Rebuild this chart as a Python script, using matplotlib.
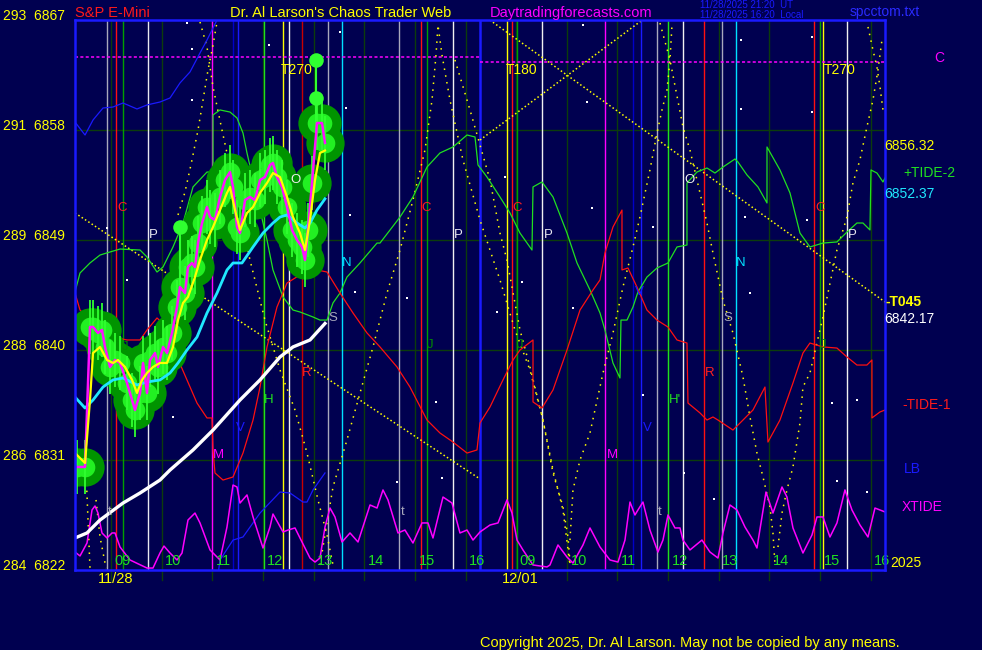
import matplotlib
matplotlib.use('Agg')
import matplotlib.pyplot as plt
import matplotlib.transforms as mtransforms

plt.rcParams['font.family'] = ['Liberation Sans', 'DejaVu Sans']

BG = '#000050'

# x axis is session hours: 11/28 09:00 -> 9, 12/01 09:00 -> 17
X0, X1 = 8.289, 24.282
Y0, Y1 = 6822.0, 6867.0

price_levels = [6867, 6858, 6849, 6840, 6831, 6822]
alt_levels = [293, 291, 289, 288, 286, 284]
hour_lines = list(range(9, 25))
hour_labels = ['09', '10', '11', '12', '13', '14', '15', '16'] * 2

# price (magenta) and its smoothings
px_t = [8.329, 8.487, 8.585, 8.645, 8.743, 8.822, 8.882, 8.980, 9.079, 9.178, 9.316, 9.415,
        9.474, 9.573, 9.632, 9.711, 9.770, 9.869, 9.928, 10.027, 10.106, 10.204, 10.303,
        10.362, 10.461, 10.520, 10.599, 10.658, 10.718, 10.797, 10.895, 10.955, 11.053,
        11.152, 11.251, 11.349, 11.409, 11.488, 11.547, 11.646, 11.744, 11.843, 11.942,
        12.040, 12.139, 12.198, 12.277, 12.376, 12.475, 12.574, 12.672, 12.771, 12.830,
        12.889, 12.968, 13.067, 13.166, 13.225]
px_p = [6830.43, 6830.43, 6841.88, 6841.88, 6841.39, 6841.64, 6840.25, 6838.61, 6839.18,
        6838.94, 6837.30, 6835.91, 6835.09, 6836.48, 6838.94, 6836.48, 6839.18, 6839.75,
        6838.61, 6840.25, 6839.75, 6841.39, 6843.52, 6845.15, 6844.66, 6846.79, 6847.12,
        6846.79, 6848.75, 6850.39, 6851.70, 6850.88, 6850.64, 6852.52, 6853.91, 6854.56,
        6853.34, 6850.06, 6849.57, 6852.27, 6852.52, 6852.27, 6853.91, 6854.15, 6855.14,
        6855.30, 6854.15, 6853.34, 6851.70, 6849.82, 6849.00, 6848.43, 6847.36, 6849.82,
        6853.66, 6858.57, 6858.57, 6856.94]

sm_t = [8.289, 8.487, 8.585, 8.645, 8.783, 8.921, 9.039, 9.138, 9.276, 9.415, 9.513, 9.612,
        9.711, 9.829, 9.967, 10.106, 10.224, 10.323, 10.422, 10.520, 10.658, 10.757, 10.895,
        11.014, 11.152, 11.290, 11.349, 11.448, 11.547, 11.685, 11.804, 11.942, 12.080,
        12.198, 12.337, 12.475, 12.593, 12.731, 12.830, 12.929, 13.028, 13.126, 13.225]
sm_p = [6831.57, 6830.75, 6835.91, 6839.75, 6840.25, 6839.18, 6838.94, 6839.18, 6838.61,
        6837.55, 6836.48, 6837.55, 6838.12, 6838.61, 6838.94, 6838.94, 6840.25, 6842.45,
        6843.85, 6844.34, 6845.97, 6847.36, 6849.00, 6850.06, 6851.45, 6852.85, 6853.34,
        6851.45, 6849.82, 6851.21, 6851.70, 6852.85, 6853.66, 6854.48, 6854.15, 6852.52,
        6850.88, 6849.57, 6848.18, 6850.64, 6853.91, 6856.12, 6856.32]

ma_t = [8.289, 8.487, 8.645, 8.842, 9.039, 9.237, 9.513, 9.711, 9.967, 10.165, 10.323, 10.500,
        10.698, 10.895, 11.093, 11.290, 11.409, 11.586, 11.804, 12.001, 12.198, 12.337,
        12.475, 12.672, 12.830, 12.929, 13.067, 13.225]
ma_p = [6836.15, 6835.25, 6835.91, 6836.97, 6837.55, 6837.71, 6837.14, 6837.38, 6837.55,
        6838.12, 6838.94, 6840.00, 6841.06, 6843.03, 6844.66, 6846.55, 6847.12, 6847.12,
        6848.43, 6849.57, 6850.39, 6850.88, 6851.05, 6850.39, 6849.98, 6850.39, 6851.45,
        6852.37]

slow_t = [8.289, 8.526, 8.783, 9.237, 9.573, 9.967, 10.165, 10.619, 11.014, 11.547, 11.942,
          12.337, 12.593, 12.929, 13.225]
slow_p = [6824.62, 6825.03, 6826.09, 6827.48, 6828.30, 6829.36, 6830.18, 6831.82, 6833.45,
          6835.91, 6837.55, 6839.43, 6840.25, 6840.82, 6842.17]

# tall bars with a ball on top
spike_t = [10.362, 13.048, 13.048]
spike_lo = [6845.2, 6858.0, 6858.0]
spike_hi = [6850.06, 6863.73, 6860.6]

# +TIDE-2
tide2_t = [8.289, 8.388, 8.585, 8.783, 8.980, 9.178, 9.573, 9.711, 9.908, 10.027, 10.224,
           10.422, 10.619, 10.895, 11.014, 11.014, 11.152, 11.349, 11.488, 11.606, 11.685,
           11.942, 12.080, 12.198, 12.396, 12.593, 12.731, 12.988, 13.126, 13.265, 13.383,
           13.521, 13.659, 13.916, 14.252, 14.311, 14.706, 14.962, 15.239, 15.495, 15.752,
           16.029, 16.187, 16.246, 16.424, 16.680, 16.878, 17.075, 17.312, 17.332, 17.509,
           17.727, 18.003, 18.201, 18.457, 18.655, 18.753, 18.911, 19.049, 19.069, 19.188,
           19.306, 19.404, 19.582, 19.780, 19.997, 20.175, 20.372, 20.372, 20.569, 20.767,
           20.925, 21.083, 21.320, 21.379, 21.557, 21.774, 21.952, 21.952, 22.208, 22.406,
           22.603, 22.800, 23.057, 23.333, 23.531, 23.728, 23.847, 23.985, 24.005, 24.123,
           24.242, 24.282]
tide2_p = [6844.75, 6846.30, 6847.12, 6847.77, 6848.02, 6848.26, 6848.18, 6847.61, 6846.38,
           6846.79, 6848.43, 6850.39, 6853.34, 6854.56, 6854.56, 6859.23, 6859.64, 6859.47,
           6858.98, 6857.75, 6856.12, 6851.45, 6849.00, 6846.55, 6844.34, 6843.27, 6843.11,
           6842.70, 6842.45, 6842.45, 6843.85, 6844.66, 6845.97, 6847.12, 6848.75, 6848.75,
           6850.88, 6852.52, 6854.97, 6856.12, 6856.61, 6857.59, 6857.43, 6855.14, 6854.15,
           6852.52, 6851.21, 6849.57, 6848.18, 6853.34, 6853.75, 6852.52, 6849.57, 6847.12,
           6844.91, 6843.03, 6841.64, 6838.94, 6837.71, 6842.45, 6842.45, 6843.52, 6844.75,
           6845.97, 6846.71, 6847.12, 6848.43, 6848.59, 6853.66, 6854.56, 6854.89, 6854.48,
           6854.97, 6855.63, 6855.38, 6854.32, 6853.34, 6852.03, 6856.61, 6854.73, 6852.85,
           6849.57, 6848.43, 6848.75, 6848.84, 6849.65, 6850.39, 6850.39, 6849.82, 6854.73,
           6854.48, 6853.75, 6854.07]

# -TIDE-1
tide1_t = [8.289, 8.388, 8.645, 8.842, 9.039, 9.316, 9.573, 9.711, 9.908, 10.106, 10.303,
           10.500, 10.698, 10.895, 10.994, 11.014, 11.053, 11.211, 11.409, 11.606, 11.804,
           11.942, 12.080, 12.277, 12.475, 12.731, 13.067, 13.265, 13.521, 13.778, 14.055,
           14.311, 14.647, 14.903, 15.239, 15.495, 15.752, 16.029, 16.226, 16.285, 16.483,
           16.739, 16.937, 17.075, 17.332, 17.332, 17.509, 17.727, 18.003, 18.260, 18.516,
           18.655, 18.753, 18.911, 19.089, 19.089, 19.207, 19.385, 19.582, 19.780, 19.997,
           20.175, 20.372, 20.392, 20.629, 20.767, 20.885, 20.984, 21.280, 21.478, 21.675,
           21.912, 21.971, 22.208, 22.465, 22.662, 22.800, 23.057, 23.333, 23.531, 23.728,
           23.925, 24.024, 24.024, 24.183, 24.282]
tide1_p = [6844.66, 6843.27, 6842.21, 6841.64, 6841.06, 6840.82, 6840.82, 6841.64, 6842.62,
           6841.88, 6839.43, 6837.55, 6835.66, 6834.44, 6834.44, 6831.82, 6829.94, 6829.36,
           6829.61, 6831.57, 6834.27, 6836.97, 6840.25, 6843.52, 6845.48, 6846.14, 6846.55,
           6846.38, 6844.66, 6843.03, 6841.39, 6840.25, 6838.61, 6836.97, 6834.27, 6833.21,
           6832.47, 6831.57, 6831.82, 6834.03, 6835.34, 6837.55, 6839.18, 6840.00, 6840.82,
           6835.75, 6835.25, 6836.73, 6840.00, 6843.27, 6844.91, 6845.73, 6847.94, 6850.06,
           6851.45, 6846.55, 6846.71, 6845.15, 6843.27, 6842.45, 6841.88, 6840.82, 6840.57,
           6835.66, 6834.85, 6834.27, 6834.52, 6834.27, 6833.45, 6834.27, 6835.09, 6836.97,
           6832.47, 6834.27, 6837.30, 6839.75, 6840.57, 6840.25, 6840.16, 6839.43, 6838.77,
           6838.77, 6839.18, 6834.44, 6834.93, 6835.09]

# LB (wraps from the top edge to the bottom edge)
lb_top_t = [8.289, 8.487, 8.645, 8.842, 9.039, 9.237, 9.513, 9.711, 9.967, 10.165, 10.362,
            10.560, 10.757, 10.895, 11.093, 11.152]
lb_top_p = [6858.65, 6857.59, 6858.82, 6859.80, 6859.88, 6860.21, 6859.72, 6860.05, 6860.29,
            6860.62, 6861.85, 6862.75, 6864.30, 6865.36, 6867.00, 6867.60]
lb_bot_t = [11.113, 11.152, 11.409, 11.606, 11.942, 12.337, 12.534, 12.791, 12.870, 12.988,
            13.225]
lb_bot_p = [6821.60, 6822.82, 6824.45, 6824.70, 6826.66, 6828.38, 6828.30, 6827.56, 6827.56,
            6828.55, 6829.94]

# XTIDE
xt_t = [8.289, 8.388, 8.526, 8.625, 8.684, 8.743, 8.822, 8.921, 9.020, 9.079, 9.178, 9.375,
        9.711, 9.829, 9.967, 10.046, 10.165, 10.303, 10.402, 10.520, 10.658, 10.757, 10.955,
        11.152, 11.290, 11.409, 11.488, 11.547, 11.685, 11.804, 12.001, 12.139, 12.198,
        12.297, 12.396, 12.495, 12.633, 12.731, 12.929, 13.028, 13.126, 13.225, 13.324,
        13.422, 13.561, 13.719, 13.877, 14.114, 14.252, 14.370, 14.469, 14.666, 14.804,
        14.962, 15.140, 15.259, 15.357, 15.555, 15.732, 15.890, 16.029, 16.147, 16.285,
        16.483, 16.641, 16.818, 16.917, 17.016, 17.134, 17.332, 17.608, 17.667, 17.825,
        18.003, 18.121, 18.319, 18.457, 18.655, 18.852, 19.010, 19.148, 19.247, 19.345,
        19.404, 19.503, 19.641, 19.799, 19.898, 19.997, 20.135, 20.234, 20.293, 20.431,
        20.668, 20.826, 20.984, 21.083, 21.221, 21.359, 21.517, 21.675, 21.754, 21.932,
        22.070, 22.248, 22.346, 22.465, 22.662, 22.840, 22.939, 23.057, 23.195, 23.333,
        23.491, 23.630, 23.788, 23.946, 24.084, 24.282]
xt_p = [6823.47, 6823.15, 6824.21, 6826.91, 6827.24, 6826.66, 6825.03, 6824.62, 6825.03,
        6825.03, 6823.88, 6822.82, 6822.16, 6822.16, 6823.39, 6823.96, 6823.39, 6822.82,
        6823.39, 6826.09, 6826.66, 6825.85, 6823.64, 6822.82, 6825.52, 6828.95, 6828.79,
        6827.48, 6828.14, 6826.34, 6823.80, 6825.52, 6826.58, 6825.85, 6825.11, 6825.27,
        6825.44, 6824.62, 6822.98, 6822.65, 6822.98, 6825.52, 6827.07, 6826.34, 6824.29,
        6825.03, 6824.29, 6827.32, 6827.07, 6828.55, 6827.73, 6825.03, 6825.27, 6824.21,
        6825.85, 6825.85, 6824.62, 6827.97, 6827.48, 6825.03, 6825.27, 6824.45, 6825.11,
        6825.68, 6825.85, 6827.73, 6826.66, 6824.45, 6823.64, 6822.41, 6822.25, 6822.41,
        6824.05, 6823.06, 6822.57, 6824.05, 6825.44, 6823.88, 6822.82, 6822.65, 6824.45,
        6827.56, 6826.50, 6826.91, 6827.56, 6825.27, 6823.47, 6824.45, 6826.50, 6825.44,
        6825.44, 6824.45, 6823.64, 6824.45, 6823.47, 6822.98, 6825.03, 6827.32, 6826.91,
        6825.52, 6824.45, 6823.80, 6828.38, 6826.66, 6828.79, 6827.97, 6825.44, 6823.39,
        6824.86, 6826.34, 6826.34, 6824.70, 6825.85, 6828.55, 6826.91, 6825.68, 6824.70,
        6827.07, 6826.75]

# straight time/price angle lines (dotted yellow)
angle_t = [[8.289, 16.285], [16.285, 24.282], [16.285, 19.543]]
angle_p = [[6851.21, 6829.45], [6867.57, 6843.93], [6857.18, 6867.16]]

# dotted cycle curves
cyc_t = [
    [8.506, 8.546, 8.585],
    [8.704, 8.783, 8.901],
    [10.323, 10.461, 10.599, 10.718, 10.817, 10.915, 11.014, 11.093],
    [10.757, 10.895, 11.014, 11.191, 11.448, 11.744, 12.040, 12.337, 12.633, 12.870, 13.087,
     13.265, 13.383],
    [13.126, 13.383, 13.659, 13.916, 14.173, 14.449, 14.706, 14.962, 15.199, 15.338, 15.417,
     15.456, 15.535, 15.693, 15.949, 16.285, 16.680, 16.976, 17.272, 17.529, 17.727, 17.924,
     18.062],
    [15.791, 16.088, 16.483, 16.680, 16.818, 17.075, 17.272, 17.529, 17.727, 17.924, 18.023,
     18.062],
    [18.062, 18.121, 18.260, 18.457, 18.714, 18.911, 19.108, 19.306, 19.444, 19.641, 19.780,
     19.879, 19.977, 20.037, 20.076],
    [19.839, 20.037, 20.293, 20.431, 20.629, 20.767, 20.885, 21.083, 21.280, 21.478, 21.616,
     21.754, 21.873, 22.011, 22.070, 22.110],
    [22.169, 22.248, 22.346, 22.465, 22.603, 22.662, 22.800, 23.057, 23.333, 23.531, 23.649,
     23.787, 23.925, 24.044, 24.143, 24.222],
    [23.946, 24.044, 24.123, 24.183, 24.242],
]
cyc_p = [
    [6830.18, 6826.09, 6822.16],
    [6827.73, 6824.70, 6822.16],
    [6851.05, 6852.93, 6855.55, 6858.00, 6860.45, 6862.91, 6864.95, 6866.84],
    [6866.84, 6864.79, 6861.52, 6858.00, 6853.09, 6847.36, 6842.45, 6838.36, 6835.09, 6831.57,
     6827.73, 6824.86, 6822.41],
    [6822.41, 6828.79, 6832.64, 6836.48, 6840.25, 6844.66, 6848.18, 6852.27, 6856.36, 6860.45,
     6864.14, 6866.59, 6864.14, 6860.45, 6855.55, 6850.64, 6845.73, 6841.64, 6838.36, 6834.27,
     6830.18, 6826.91, 6822.41],
    [6863.73, 6859.64, 6853.91, 6849.57, 6847.36, 6841.64, 6838.61, 6834.27, 6829.94, 6827.16,
     6824.70, 6822.57],
    [6824.45, 6828.55, 6831.00, 6833.21, 6838.12, 6841.39, 6845.15, 6848.43, 6850.88, 6854.73,
     6857.75, 6859.64, 6861.27, 6863.73, 6866.59],
    [6866.75, 6863.73, 6858.25, 6856.36, 6852.85, 6850.39, 6847.94, 6844.09, 6841.39, 6837.79,
     6834.52, 6831.57, 6829.61, 6827.16, 6825.03, 6822.41],
    [6823.88, 6826.66, 6828.55, 6830.43, 6834.03, 6836.97, 6838.12, 6842.70, 6848.18, 6850.88,
     6853.66, 6855.55, 6858.25, 6860.45, 6862.91, 6865.36],
    [6866.43, 6864.55, 6863.15, 6861.52, 6859.64],
]

# harmonic times (vertical lines)
vl_t = [8.921, 9.099, 9.237, 9.730, 10.994, 11.409, 11.507, 12.021, 12.396, 12.514, 12.771,
        13.284, 13.561, 14.686, 15.120, 15.239, 15.752,
        16.818, 16.917, 17.016, 17.509, 18.753, 19.306, 19.464, 19.780, 19.997, 20.293, 20.708,
        21.063, 21.339, 22.879, 22.998, 23.057, 23.531]
vl_c = ['#a8a8bc', '#ff1010', '#00a000', '#e8e8f0', '#ff00ff', '#0000c8', '#1a1aff', '#20e020',
        '#ffff00', '#f0f0f0', '#c80000', '#a8a8bc', '#00e0ff', '#a8a8bc', '#ff1010', '#00a000',
        '#f0f0f0',
        '#ffff00', '#ff1010', '#00a000', '#f0f0f0', '#ff00ff', '#0000c8', '#1a1aff', '#a8a8bc',
        '#20e020', '#f0f0f0', '#ff1010', '#a8a8bc', '#00e0ff', '#ff1010', '#00a000', '#ffff00',
        '#f0f0f0']

# pivot letters
let_txt = ['C', 'P', 'O', 'J', 'H', 'M', 'V', 'R', 'N', 'S', 'C', 'P', 'J', 'C', 'P', 'J',
           'O', 'V', 'V', "H'", 'M', 'R', 'N', 'S', 'C', 'P', 'J', 't', 't', 't']
let_t = [9.217, 9.829, 12.652, 9.276, 12.119, 11.113, 11.547, 12.870, 13.659, 13.383, 15.219,
         15.851, 15.298, 17.016, 17.628, 17.075, 20.431, 19.424, 19.582, 20.136, 18.891, 20.826,
         21.438, 21.182, 22.998, 23.630, 23.057, 8.980, 14.765, 19.839]
let_p = [6851.62, 6849.41, 6853.91, 6840.25, 6835.91, 6831.41, 6833.62, 6838.12, 6847.12,
         6842.62, 6851.62, 6849.41, 6840.41, 6851.62, 6849.41, 6840.41, 6853.91, 6844.75,
         6833.62, 6835.91, 6831.41, 6838.12, 6847.12, 6842.62, 6851.62, 6849.41, 6840.41,
         6826.75, 6826.75, 6826.75]
let_c = ['#ff2020', '#e8e8f0', '#f0f0f0', '#008a00', '#20e020', '#ff00ff', '#1a1aff', '#ff2020',
         '#00e0ff', '#a8a8bc', '#ff2020', '#e8e8f0', '#008a00', '#ff2020', '#e8e8f0', '#008a00',
         '#f0f0f0', '#1a1aff', '#1a1aff', '#20e020', '#ff00ff', '#ff2020', '#00e0ff', '#a8a8bc',
         '#ff2020', '#e8e8f0', '#008a00', '#a8a8bc', '#a8a8bc', '#a8a8bc']

cycle_names = ['T270', 'T180', 'T270']
cycle_t = [12.672, 17.115, 23.392]
cycle_p = 6862.9

# small white marks
star_t = [10.500, 10.599, 10.599, 12.119, 13.521, 13.640, 18.319, 18.398, 21.438, 21.438,
          22.840, 22.840, 8.921, 9.316, 10.224, 13.719, 13.817, 14.844, 15.417, 14.647, 15.535,
          16.621, 16.779, 17.115, 18.121, 18.497, 19.701, 19.503, 21.517, 21.616, 22.741,
          23.235, 23.728, 20.313, 20.905, 23.333, 23.925]
star_p = [6866.75, 6864.63, 6860.45, 6864.95, 6866.02, 6859.80, 6866.59, 6860.29, 6865.36,
          6859.72, 6865.61, 6859.47, 6849.98, 6845.73, 6834.52, 6851.05, 6844.75, 6844.25,
          6835.75, 6829.20, 6829.53, 6843.11, 6854.15, 6845.56, 6843.44, 6851.62, 6850.06,
          6836.32, 6850.88, 6844.66, 6850.64, 6835.66, 6835.91, 6829.94, 6827.81, 6829.28,
          6828.38]

W, H = 982, 650
fig = plt.figure(figsize=(W / 100, H / 100), dpi=100, facecolor=BG)
ax = fig.add_axes([75 / W, 80 / H, 810 / W, 550 / H])
ax.set_facecolor(BG)
ax.set_xlim(X0, X1)
ax.set_ylim(Y0, Y1)
ax.set_xticks([])
ax.set_yticks([])
for s in ax.spines.values():
    s.set_color('#1a1aff')
    s.set_linewidth(1.8)
    s.set_zorder(20)


def fx(px):
    return px / W


def fy(py):
    return 1 - py / H


# grid
for lv in price_levels[1:-1]:
    ax.axhline(lv, color='#0c3c0c', lw=1, zorder=0.5)
xb = mtransforms.blended_transform_factory(ax.transData, ax.transAxes)
for h in hour_lines:
    ax.plot([h, h], [-0.018, 1], color='#0c3c0c', lw=1, transform=xb, clip_on=False, zorder=0.5)
for t, c in zip(vl_t, vl_c):
    ax.axvline(t, color=c, lw=1, zorder=1)
ax.axvline(16.285, color='#1a1aff', lw=1.8, zorder=1)

# dotted lines
ax.plot([X0, 16.285], [6863.97, 6863.97], color='#ff00ff', lw=1.1, ls=(0, (2, 1.5)), zorder=2)
ax.plot([16.285, X1], [6863.56, 6863.56], color='#ff00ff', lw=1.1, ls=(0, (2, 1.5)), zorder=2)
for t, p in zip(angle_t, angle_p):
    ax.plot(t, p, color='#ffff00', lw=1.1, ls=(0, (1, 1.6)), zorder=2)
for t, p in zip(cyc_t, cyc_p):
    ax.plot(t, p, color='#ffff00', lw=1.1, ls=(0, (1, 3.5)), zorder=2)
ax.scatter(star_t, star_p, s=2, color='white', marker='s', lw=0, zorder=2)

# tide lines
ax.plot(tide2_t, tide2_p, color='#20e020', lw=0.9, zorder=3)
ax.plot(tide1_t, tide1_p, color='#ff1010', lw=0.9, zorder=3)
ax.plot(lb_top_t, lb_top_p, color='#1a1aff', lw=0.9, zorder=3)
ax.plot(lb_bot_t, lb_bot_p, color='#1a1aff', lw=0.9, zorder=3)
ax.plot(xt_t, xt_p, color='#ff00ff', lw=1.1, zorder=3)

# price blobs
ax.scatter(px_t, px_p, s=760, color='#009400', lw=0, zorder=4)
ax.scatter(px_t, px_p, s=200, color='#22f022', lw=0, zorder=4.2)
ax.vlines(px_t, [p - 2.2 for p in px_p], [p + 2.2 for p in px_p], color='#30ff30', lw=1.3,
          zorder=4.3)
ax.vlines(spike_t, spike_lo, spike_hi, color='#30ff30', lw=1.5, zorder=4.3)
ax.scatter(spike_t, spike_hi, s=110, color='#30ff30', lw=0, zorder=4.4)

ax.plot(slow_t, slow_p, color='white', lw=2.4, zorder=5)
ax.plot(ma_t, ma_p, color='#20e8ff', lw=2.0, zorder=5)
ax.plot(px_t, px_p, color='#ff10ff', lw=1.8, zorder=6)
ax.plot(sm_t, sm_p, color='#ffff00', lw=1.6, zorder=7)

for s, t, p, c in zip(let_txt, let_t, let_p, let_c):
    ax.text(t, p, s, color=c, fontsize=9.5, ha='center', va='center', zorder=8)
for s, t in zip(cycle_names, cycle_t):
    ax.text(t, cycle_p, s, color='#ffff00', fontsize=10, ha='center', va='center', zorder=8)

# hour labels
for h, lab in zip(hour_lines, hour_labels):
    ax.text(h + 0.07, 0.004, lab, color='#20e020', fontsize=10.5, ha='left', va='bottom',
            transform=xb, zorder=8)

# price scale on the left
yb = mtransforms.blended_transform_factory(ax.transAxes, ax.transData)
for a, lv in zip(alt_levels, price_levels):
    ax.text(-0.012, lv, f'{a}  {lv}', color='#ffff00', fontsize=10, ha='right',
            va='baseline', transform=yb, clip_on=False)

# header
fig.text(fx(75), fy(13), 'S&P E-Mini', color='#ff1a1a', fontsize=10.5, va='center')
fig.text(fx(230), fy(13), "Dr. Al Larson's Chaos Trader Web", color='#ffff00', fontsize=10.5,
         va='center')
fig.text(fx(490), fy(13), 'Daytradingforecasts.com', color='#ff00ff', fontsize=10.5,
         va='center')
fig.text(fx(700), fy(5), '11/28/2025 21:20  UT', color='#1a1aff', fontsize=7, va='center')
fig.text(fx(700), fy(15), '11/28/2025 16:20  Local', color='#1a1aff', fontsize=7,
         va='center')
fig.text(fx(850), fy(12), 'spcctom.txt', color='#2a2aff', fontsize=10, va='center')

# right side labels
right_labels = [('6856.32', 884, 146, '#ffff00'), ('+TIDE-2', 903, 173, '#20e020'),
                ('6852.37', 884, 194, '#20e8ff'), ('6842.17', 884, 319, 'white'),
                ('-TIDE-1', 902, 405, '#ff1a1a'), ('LB', 904, 469, '#1a1aff'),
                ('XTIDE', 902, 507, '#ff00ff'), ('C', 934, 58, '#ff00ff'),
                ('2025', 890, 563, '#ffff00')]
for s, x, y, c in right_labels:
    fig.text(fx(x), fy(y), s, color=c, fontsize=10, va='center')
fig.text(fx(886), fy(302), '-T045', color='#ffff00', fontsize=10, fontweight='bold',
         va='center')

# dates
fig.text(fx(98), fy(579), '11/28', color='#ffff00', fontsize=10.5, va='center')
fig.text(fx(502), fy(579), '12/01', color='#ffff00', fontsize=10.5, va='center')
fig.text(fx(480), fy(643), 'Copyright 2025, Dr. Al Larson. May not be copied by any means.',
         color='#ffff00', fontsize=10.5, va='center')

fig.savefig('out.png', dpi=100, facecolor=BG)
